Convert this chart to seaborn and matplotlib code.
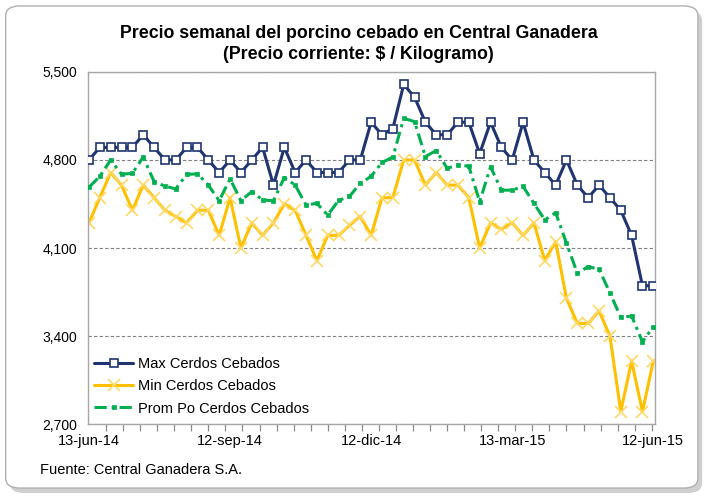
import matplotlib
matplotlib.use("Agg")
import matplotlib.pyplot as plt
from matplotlib.patches import FancyBboxPatch
from matplotlib.ticker import FuncFormatter
import pandas as pd
import seaborn as sns

sns.set_theme(style="white")
plt.rcParams['font.family'] = ['Liberation Sans', 'DejaVu Sans']
plt.rcParams['text.color'] = 'black'

# weekly prices, 13-jun-14 .. 12-jun-15
weeks = pd.date_range("2014-06-13", "2015-06-12", freq="7D")

max_cerdos = [4800, 4900, 4900, 4900, 4900, 5000, 4900, 4800, 4800, 4900,
              4900, 4800, 4700, 4800, 4700, 4800, 4900, 4600, 4900, 4700,
              4800, 4700, 4700, 4700, 4800, 4800, 5100, 5000, 5050, 5400,
              5300, 5100, 5000, 5000, 5100, 5100, 4850, 5100, 4900, 4800,
              5100, 4800, 4700, 4600, 4800, 4600, 4500, 4600, 4500, 4400,
              4200, 3800, 3800]
min_cerdos = [4300, 4500, 4700, 4600, 4400, 4600, 4500, 4400, 4350, 4300,
              4400, 4400, 4200, 4500, 4100, 4300, 4200, 4300, 4450, 4400,
              4200, 4000, 4200, 4200, 4280, 4350, 4200, 4500, 4500, 4800,
              4800, 4600, 4700, 4600, 4600, 4500, 4100, 4300, 4250, 4300,
              4200, 4300, 4000, 4150, 3700, 3500, 3500, 3600, 3400, 2800,
              3200, 2800, 3200]
prom_cerdos = [4583, 4670, 4800, 4686, 4694, 4823, 4628, 4592, 4570, 4685,
               4690, 4600, 4476, 4650, 4476, 4548, 4482, 4476, 4660, 4600,
               4442, 4455, 4362, 4478, 4510, 4614, 4670, 4780, 4823, 5131,
               5105, 4827, 4875, 4734, 4760, 4750, 4468, 4745, 4560, 4560,
               4590, 4455, 4323, 4381, 4137, 3899, 3952, 3931, 3744, 3549,
               3559, 3355, 3474]

series_names = ["Max Cerdos Cebados", "Min Cerdos Cebados", "Prom Po Cerdos Cebados"]
x_labels = ["13-jun-14", "12-sep-14", "12-dic-14", "13-mar-15", "12-jun-15"]
y_ticks = [2700, 3400, 4100, 4800, 5500]

navy = "#1F3470"
orange = "#FFC000"
green = "#00B050"

fig = plt.figure(figsize=(7.1, 4.96), dpi=100)
fig.patch.set_facecolor("white")

# chart frame with a soft shadow
shadow = FancyBboxPatch((0.014, 0.006), 0.975, 0.972, transform=fig.transFigure,
                        boxstyle="round,pad=0,rounding_size=0.02",
                        fc="#D0D0D0", ec="none", zorder=-2)
frame = FancyBboxPatch((0.008, 0.016), 0.975, 0.972, transform=fig.transFigure,
                       boxstyle="round,pad=0,rounding_size=0.02",
                       fc="white", ec="#B0B0B0", lw=1.0, zorder=-1)
fig.patches.extend([shadow, frame])

ax = fig.add_axes([0.124, 0.145, 0.799, 0.710])
ax.set_facecolor("none")

sns.lineplot(x=weeks, y=max_cerdos, ax=ax, color=navy, linewidth=2.2,
             marker="s", markersize=6, markerfacecolor="white",
             markeredgecolor=navy, markeredgewidth=1.2,
             label=series_names[0], zorder=4)
sns.lineplot(x=weeks, y=min_cerdos, ax=ax, color=orange, linewidth=2.2,
             marker="x", markersize=8, markeredgecolor="#FFD966",
             markeredgewidth=1.2, label=series_names[1], zorder=2)
sns.lineplot(x=weeks, y=prom_cerdos, ax=ax, color=green, linewidth=2.2,
             linestyle=(0, (4, 1.6, 1, 1.6)), marker="s", markersize=3.4,
             markerfacecolor=green, markeredgecolor=green, markeredgewidth=0.5,
             label=series_names[2], zorder=3)

ax.set_ylim(2700, 5500)
ax.set_yticks(y_ticks)
ax.yaxis.set_major_formatter(FuncFormatter(lambda v, p: f"{int(v):,}"))
ax.set_xlim(weeks[0] - pd.Timedelta(days=0.6), weeks[-1] + pd.Timedelta(days=1.3))
ax.set_xticks(weeks[::13])
ax.set_xticklabels(x_labels)
ax.set_xticks(pd.date_range(weeks[0], periods=34, freq="11D"), minor=True)

ax.yaxis.grid(True, color="#808080", linestyle=(0, (3, 2)), linewidth=0.8)
ax.xaxis.grid(False)
for sp in ax.spines.values():
    sp.set_color("#A6A6A6")
    sp.set_linewidth(1.0)

ax.tick_params(axis="y", labelsize=10, length=0, pad=8, colors="black")
ax.tick_params(axis="x", which="major", labelsize=10.5, length=0, pad=7, colors="black")
ax.tick_params(axis="x", which="minor", length=5, width=0.9, color="#8C8C8C",
               bottom=True, direction="out")
ax.set_xlabel("")
ax.set_ylabel("")

ax.legend(loc="upper left", bbox_to_anchor=(0.0, 0.208), frameon=False,
          fontsize=10.5, handlelength=2.7, labelspacing=0.58, borderaxespad=0,
          handletextpad=0.3)

fig.text(0.505, 0.932, "Precio semanal del porcino cebado en Central Ganadera",
         ha="center", va="center", fontsize=12.8, fontweight="bold")
fig.text(0.505, 0.891, r"(Precio corriente: \$ / Kilogramo)",
         ha="center", va="center", fontsize=12.8, fontweight="bold")
fig.text(0.056, 0.052, "Fuente: Central Ganadera S.A.", ha="left", va="center",
         fontsize=10.5)

fig.savefig("out.png", dpi=100)
